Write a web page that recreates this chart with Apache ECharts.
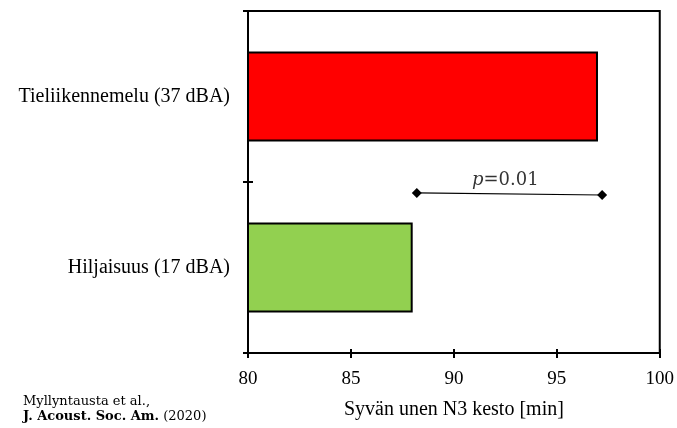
<!DOCTYPE html>
<html><head><meta charset="utf-8">
<script src="https://cdn.jsdelivr.net/npm/echarts@6/dist/echarts.min.js"></script>
<style>html,body{margin:0;padding:0;background:#fff}#c{width:677px;height:428px}</style>
</head><body><div id="c"></div>
<script>
const categories = ['Hiljaisuus (17 dBA)', 'Tieliikennemelu (37 dBA)'];
const values = [88, 97];
const barColors = ['#92d050', '#ff0000'];
const xTicks = [80, 85, 90, 95, 100];
const xName = 'Syvän unen N3 kesto [min]';
const pLine = [[88.2, 0.468], [97.2, 0.462]];
const pLabelPos = [92.5, 0.505];
const citation1 = 'Myllyntausta et al.,';
const citation2 = 'J. Acoust. Soc. Am.';
const citation3 = '(2020)';

const serif = 'Liberation Serif';
const chart = echarts.init(document.getElementById('c'));
chart.setOption({
  animation: false,
  textStyle: { fontFamily: serif, color: '#000' },
  grid: { left: 248, right: 16, top: 11, bottom: 75, show: true, borderColor: '#000', borderWidth: 2 },
  xAxis: [{
    type: 'value', min: xTicks[0], max: xTicks[xTicks.length - 1], interval: 5,
    name: xName, nameLocation: 'middle', nameGap: 47,
    nameTextStyle: { fontFamily: serif, fontSize: 20, color: '#000' },
    axisLine: { show: true, lineStyle: { color: '#000', width: 2 } },
    axisTick: { show: true, length: 5, lineStyle: { color: '#000', width: 2 } },
    axisLabel: { fontFamily: serif, fontSize: 19, color: '#000', margin: 17 },
    splitLine: { show: false }
  }, {
    type: 'value', min: xTicks[0], max: xTicks[xTicks.length - 1], interval: 5, position: 'bottom',
    axisLine: { show: false }, axisLabel: { show: false }, splitLine: { show: false },
    axisTick: { show: true, inside: true, length: 4, lineStyle: { color: '#000', width: 2 } }
  }],
  yAxis: [{
    type: 'category', data: categories,
    axisLine: { show: true, lineStyle: { color: '#000', width: 2 } },
    axisTick: { show: true, length: 5, lineStyle: { color: '#000', width: 2 } },
    axisLabel: { fontFamily: serif, fontSize: 20, color: '#000', margin: 18 }
  }, {
    type: 'category', data: categories, position: 'left',
    axisLine: { show: false }, axisLabel: { show: false },
    axisTick: { show: true, inside: true, length: 5, lineStyle: { color: '#000', width: 2 } }
  }, {
    type: 'value', min: 0, max: 1, show: false
  }],
  series: [{
    type: 'bar', xAxisIndex: 0, yAxisIndex: 0, barWidth: 90,
    data: values.map((v, i) => ({ value: v, itemStyle: { color: barColors[i] } })),
    itemStyle: { borderColor: '#000', borderWidth: 2 }
  }, {
    type: 'line', xAxisIndex: 0, yAxisIndex: 2, data: pLine,
    symbol: 'diamond', symbolSize: 10, showSymbol: true,
    lineStyle: { color: '#000', width: 1.2 }, itemStyle: { color: '#000' }
  }, {
    type: 'scatter', xAxisIndex: 0, yAxisIndex: 2, data: [pLabelPos], symbolSize: 0,
    label: {
      show: true, position: 'inside',
      formatter: '{i|p}{n|=0.01}',
      rich: {
        i: { fontFamily: 'DejaVu Serif', fontStyle: 'italic', fontSize: 18, color: '#000' },
        n: { fontFamily: 'DejaVu Serif', fontSize: 18, color: '#000' }
      }
    }
  }],
  graphic: [{
    type: 'text', left: 23, top: 394,
    style: {
      text: citation1 + '\n{b|' + citation2 + '} ' + citation3,
      font: '13px "DejaVu Serif"', fill: '#000', lineHeight: 15,
      rich: { b: { fontFamily: 'DejaVu Serif', fontWeight: 'bold', fontSize: 13 } }
    }
  }]
});
</script></body></html>
